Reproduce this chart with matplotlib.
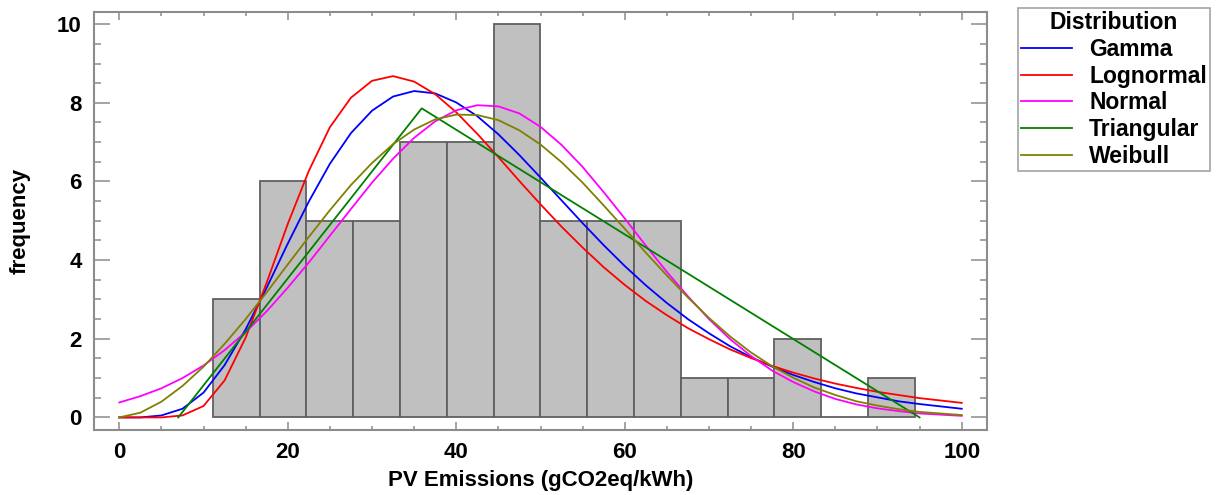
import matplotlib
matplotlib.use("Agg")
import matplotlib.pyplot as plt
import numpy as np

# -----------------------------------------------
# data
# -----------------------------------------------
bin_edges = [11.1, 16.66, 22.21, 27.77, 33.32, 38.88, 44.43, 49.99,
             55.54, 61.1, 66.65, 72.21, 77.76, 83.32, 88.87, 94.43]
counts = [3, 6, 5, 5, 7, 7, 10, 5, 5, 5, 1, 1, 2, 0, 1]

x_curve = [0, 2.5, 5, 7.5, 10, 12.5, 15, 17.5, 20, 22.5, 25, 27.5, 30, 32.5,
           35, 37.5, 40, 42.5, 45, 47.5, 50, 52.5, 55, 57.5, 60, 62.5, 65,
           67.5, 70, 72.5, 75, 77.5, 80, 82.5, 85, 87.5, 90, 92.5, 95, 97.5, 100]

gamma = [0, 0.0, 0.05, 0.22, 0.63, 1.33, 2.24, 3.30, 4.42, 5.49, 6.45, 7.23,
         7.80, 8.16, 8.30, 8.24, 8.01, 7.66, 7.20, 6.67, 6.10, 5.52, 4.94,
         4.38, 3.85, 3.36, 2.91, 2.50, 2.14, 1.81, 1.53, 1.29, 1.08, 0.90,
         0.74, 0.61, 0.51, 0.41, 0.34, 0.28, 0.22]
lognormal = [0, 0, 0, 0.05, 0.29, 0.94, 2.03, 3.43, 4.92, 6.27, 7.38, 8.13,
             8.56, 8.68, 8.54, 8.22, 7.76, 7.21, 6.62, 6.01, 5.42, 4.85, 4.32,
             3.82, 3.37, 2.96, 2.60, 2.27, 1.99, 1.73, 1.51, 1.31, 1.14, 0.99,
             0.86, 0.75, 0.65, 0.57, 0.49, 0.43, 0.37]
normal = [0.38, 0.54, 0.74, 1.00, 1.32, 1.71, 2.17, 2.70, 3.30, 3.94, 4.62,
          5.30, 5.97, 6.58, 7.11, 7.53, 7.81, 7.94, 7.91, 7.73, 7.39, 6.93,
          6.37, 5.73, 5.06, 4.37, 3.70, 3.08, 2.50, 1.99, 1.56, 1.19, 0.90,
          0.66, 0.47, 0.33, 0.23, 0.16, 0.10, 0.07, 0.04]
weibull = [0, 0.12, 0.40, 0.80, 1.29, 1.87, 2.50, 3.18, 3.89, 4.59, 5.27,
           5.91, 6.47, 6.95, 7.32, 7.58, 7.70, 7.69, 7.56, 7.30, 6.94, 6.49,
           5.97, 5.39, 4.80, 4.19, 3.61, 3.05, 2.53, 2.06, 1.65, 1.30, 1.01,
           0.76, 0.57, 0.41, 0.30, 0.21, 0.14, 0.10, 0.06]
tri_x = [7.0, 35.9, 95.0]
tri_y = [0, 7.86, 0]

plt.rcParams["font.family"] = ["Liberation Sans", "DejaVu Sans"]
plt.rcParams["font.weight"] = "bold"

fig = plt.figure(figsize=(12.17, 4.95), dpi=100)
ax = fig.add_axes([94 / 1217, 65 / 495, 893 / 1217, 418 / 495])

# histogram
left = bin_edges[:-1]
widths = np.diff(bin_edges)
ax.bar(left, counts, width=widths, align="edge", color="#c0c0c0",
       edgecolor="#606060", linewidth=1.3, zorder=1)

# fitted curves
lw = 1.3
ax.plot(x_curve, gamma, color="#0000ff", lw=lw, label="Gamma", zorder=3)
ax.plot(x_curve, lognormal, color="#ff0000", lw=lw, label="Lognormal", zorder=3)
ax.plot(x_curve, normal, color="#ff00ff", lw=lw, label="Normal", zorder=3)
ax.plot(tri_x, tri_y, color="#008000", lw=lw, label="Triangular", zorder=3)
ax.plot(x_curve, weibull, color="#808000", lw=lw, label="Weibull", zorder=3)

ax.set_xlim(-3.0, 103.0)
ax.set_ylim(-0.32, 10.31)
ax.set_xticks([0, 20, 40, 60, 80, 100])
ax.set_xticks(np.arange(0, 101, 5), minor=True)
ax.set_yticks([0, 2, 4, 6, 8, 10])
ax.set_yticks(np.arange(0, 10.01, 0.5), minor=True)

frame = "#8c8c8c"
for s in ax.spines.values():
    s.set_color(frame)
    s.set_linewidth(1.5)

ax.tick_params(axis="both", which="both", direction="in", top=True,
               right=True, color=frame, width=1.1, labelsize=16)
ax.tick_params(axis="x", which="major", length=5.8, pad=9)
ax.tick_params(axis="x", which="minor", length=2.9)
ax.tick_params(axis="y", which="major", length=11.5, pad=9)
ax.tick_params(axis="y", which="minor", length=5.3)
for lab in ax.get_xticklabels() + ax.get_yticklabels():
    lab.set_fontweight("bold")

ax.set_xlabel("PV Emissions (gCO2eq/kWh)", fontsize=16, fontweight="bold",
              labelpad=5)
ax.set_ylabel("frequency", fontsize=16, fontweight="bold", labelpad=19)

leg = ax.legend(loc="upper left", bbox_to_anchor=((1018 - 94) / 893, (430 - 8) / 418),
                borderaxespad=0, title="Distribution", fontsize=16.5,
                title_fontproperties={"weight": "bold", "size": 16.5},
                fancybox=False, edgecolor=frame, handlelength=2.2,
                handletextpad=0.75, labelspacing=0.16, borderpad=0.15)
leg.get_frame().set_linewidth(1.2)
for t in leg.get_texts():
    t.set_fontweight("bold")

plt.savefig("out.png", dpi=100)
